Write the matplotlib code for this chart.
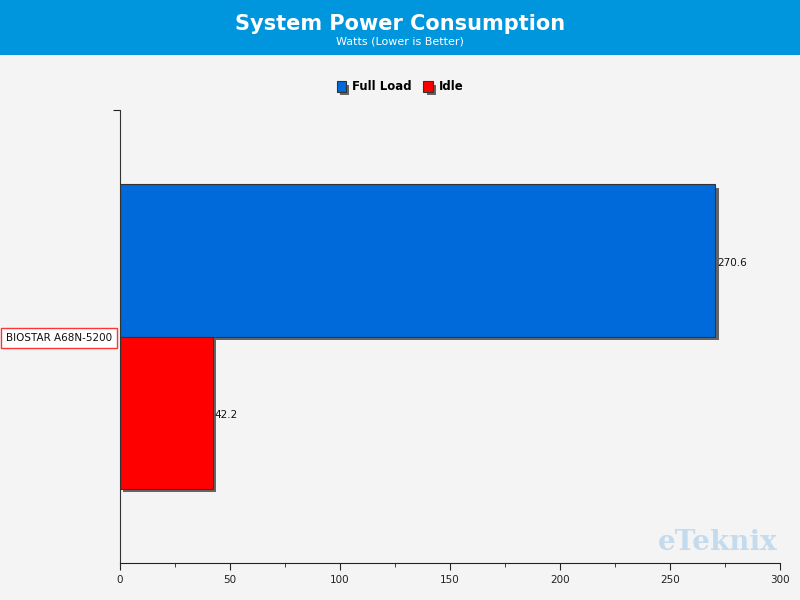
import matplotlib
matplotlib.use("Agg")
import matplotlib.pyplot as plt
import matplotlib.patheffects as pe
from matplotlib.patches import Rectangle
from matplotlib.ticker import MultipleLocator

# data
systems = ["BIOSTAR A68N-5200"]
series = ["Full Load", "Idle"]
full_load = [270.6]
idle = [42.2]
colors = {"Full Load": "#006ADB", "Idle": "#FF0000"}

BG = "#F4F4F4"
HEADER = "#0096DE"

fig = plt.figure(figsize=(8, 6), dpi=100, facecolor=BG)

# header band
fig.patches.append(Rectangle((0, 1 - 55 / 600), 1, 55 / 600, transform=fig.transFigure,
                             facecolor=HEADER, edgecolor="none", zorder=0))
fig.text(0.5, 1 - 24 / 600, "System Power Consumption", color="white", fontsize=15,
         fontweight="bold", ha="center", va="center")
fig.text(0.5, 1 - 41 / 600, "Watts (Lower is Better)", color="white", fontsize=8,
         ha="center", va="center")

ax = fig.add_axes([120 / 800, 1 - 563 / 600, 660 / 800, 453 / 600])
ax.set_facecolor(BG)

h = 152 / 453
shadow = [pe.SimplePatchShadow(offset=(2.5, -2.5), shadow_rgbFace="#555555", alpha=0.9), pe.Normal()]
b1 = ax.barh([h / 2], full_load, height=h, color=colors["Full Load"], edgecolor="#333333",
             linewidth=0.8, label="Full Load", path_effects=shadow)
b2 = ax.barh([-h / 2], idle, height=h, color=colors["Idle"], edgecolor="#333333",
             linewidth=0.8, label="Idle", path_effects=shadow)

for v, y in [(full_load[0], h / 2), (idle[0], -h / 2)]:
    ax.text(v + 0.8, y - 0.005, f"{v}", fontsize=7.5, va="center", ha="left", color="#111111")

ax.set_xlim(0, 300)
ax.set_ylim(-0.5, 0.5)
ax.xaxis.set_major_locator(MultipleLocator(50))
ax.xaxis.set_minor_locator(MultipleLocator(25))
ax.tick_params(axis="x", which="major", length=5, labelsize=7.5, colors="#222222")
ax.tick_params(axis="x", which="minor", length=3, color="#222222")
ax.set_yticks([0.5])
ax.set_yticklabels([""])
ax.tick_params(axis="y", length=5, color="#222222")
for s in ["top", "right"]:
    ax.spines[s].set_visible(False)
ax.spines["left"].set_color("#333333")
ax.spines["bottom"].set_color("#222222")

# category label box
fig.text(59 / 800, 1 - 338 / 600, systems[0], fontsize=7.5, ha="center", va="center",
         color="#111111",
         bbox=dict(boxstyle="square,pad=0.5", facecolor="white", edgecolor="#FF3333", linewidth=1.0))

# legend
leg = fig.legend(handles=[b1, b2], labels=series, loc="center", bbox_to_anchor=(0.5, 1 - 87 / 600),
                 ncol=2, frameon=False, prop={"weight": "bold", "size": 8.5},
                 handlelength=0.8, handleheight=1.0, handletextpad=0.5, columnspacing=1.0)

# watermark
fig.text(718 / 800, 1 - 543 / 600, "eTeknix", fontsize=20, fontweight="bold", family="DejaVu Serif",
         color="#BFD9EE", ha="center", va="center", alpha=0.9)

fig.savefig("out.png", dpi=100, facecolor=BG)
